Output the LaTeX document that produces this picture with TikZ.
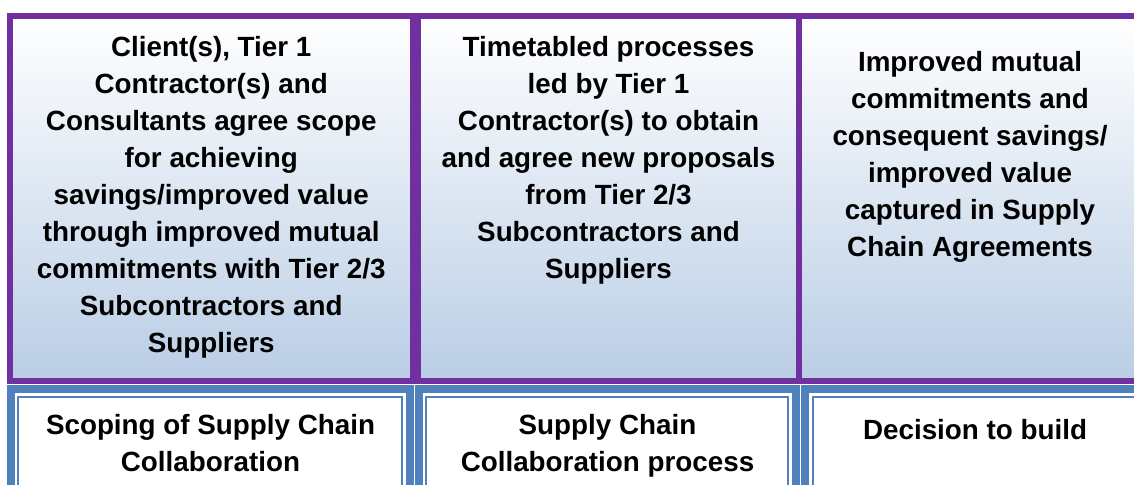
\documentclass[tikz,border=0pt]{standalone}
\usepackage{fontspec}
\setmainfont{Liberation Sans}
\usepackage{xcolor}
\usetikzlibrary{positioning}
\definecolor{stagepurple}{HTML}{7030A0}
\definecolor{stageblue}{HTML}{4F81BD}
\definecolor{stageshade}{HTML}{B9CDE5}

\begin{document}
\begin{tikzpicture}[x=0.5pt,y=-0.5pt,
  top box/.style={rectangle,draw=stagepurple,line width=3pt,outer sep=0pt,
    top color=white,bottom color=stageshade,minimum height=182.75pt},
  base box/.style={rectangle,draw=stageblue,line width=4pt,outer sep=0pt,
    fill=white,minimum height=100pt},
  base inner/.style={rectangle,draw=stageblue,line width=1pt,minimum height=92pt},
  label text/.style={align=center,inner sep=0pt,
    font=\bfseries\fontsize{13.9}{18.5}\selectfont,execute at begin node=\strut}]

  \useasboundingbox (0,0) rectangle (1134,485);
  \clip (0,0) rectangle (1134,485);

  \node[top box,minimum width=201.25pt] (t1) at (211.25,198.75) {};
  \node[top box,minimum width=190.5pt] (t2) at (608.5,198.75) {};
  \node[top box,minimum width=171pt] (t3) at (970,198.75) {};

  \node[base box,minimum width=199.5pt] (b1) at (210.5,489) {};
  \node[base box,minimum width=188.5pt] (b2) at (607.5,489) {};
  \node[base box,minimum width=170pt] (b3) at (975,489) {};
  \node[base inner,minimum width=192pt] (b1in) at (210,489) {};
  \node[base inner,minimum width=181pt] (b2in) at (607,489) {};
  \node[base inner,minimum width=162pt] (b3in) at (975,489) {};

  \node[label text,below=10pt of t1.north] (t1text)
    {Client(s), Tier 1\\Contractor(s) and\\Consultants agree scope\\for achieving\\
     savings/improved value\\through improved mutual\\commitments with Tier 2/3\\
     Subcontractors and\\Suppliers};
  \node[label text,below=10pt of t2.north] (t2text)
    {Timetabled processes\\led by Tier 1\\Contractor(s) to obtain\\
     and agree new proposals\\from Tier 2/3\\Subcontractors and\\Suppliers};
  \node[label text,below=17.5pt of t3.north] (t3text)
    {Improved mutual\\commitments and\\consequent savings/\\improved value\\
     captured in Supply\\Chain Agreements};

  \node[label text,below=12.5pt of b1.north] (b1text) {Scoping of Supply Chain\\Collaboration};
  \node[label text,below=12.5pt of b2.north] (b2text) {Supply Chain\\Collaboration process};
  \node[label text,below=12pt of b3.north] (b3text) {Decision to build};
\end{tikzpicture}
\end{document}
